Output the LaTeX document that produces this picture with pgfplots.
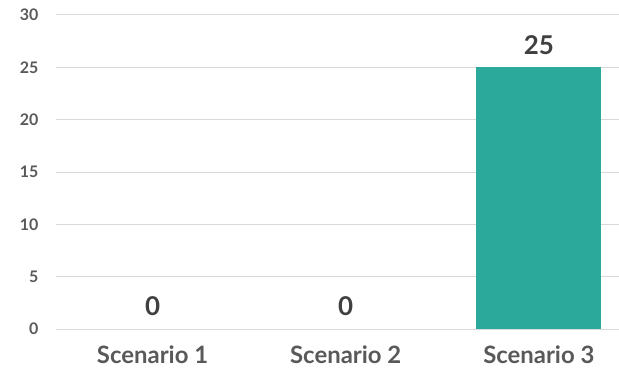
\documentclass[border=0pt]{standalone}
\usepackage{pgfplots}
\pgfplotsset{compat=1.18}
\usepackage{fontspec}
\setmainfont{Lato}[UprightFont=* Bold]
\definecolor{barc}{HTML}{2BAA9C}
\definecolor{tickc}{HTML}{595959}
\definecolor{labc}{HTML}{404040}
\definecolor{gridc}{HTML}{D9D9D9}
\begin{document}
\begin{tikzpicture}[x=1bp,y=1bp]
\path[use as bounding box] (-56bp,-45bp) rectangle (563bp,329bp);
\begin{axis}[
  at={(0,0)}, anchor=south west,
  scale only axis, width=563bp, height=314bp,
  xmin=-0.5, xmax=2.415, ymin=0, ymax=30,
  ytick={0,5,...,30},
  xtick={0,1,2},
  xticklabels={Scenario 1,Scenario 2,Scenario 3},
  axis line style={draw=none},
  major tick length=0pt,
  ymajorgrids, grid style={gridc, line width=1bp},
  /pgf/number format/assume math mode=true,
  yticklabel style={font=\fontsize{16}{18}\selectfont, text=tickc, xshift=-14bp},
  xticklabel style={font=\fontsize{24}{27}\selectfont, text=tickc, yshift=-13bp},
  clip=false,
]
\addplot[ybar, bar width=125bp, fill=barc, draw=none,
  nodes near coords,
  nodes near coords style={font=\fontsize{26}{28}\selectfont, text=labc, anchor=south, yshift=9bp},
] coordinates {(2,25)};
\addplot[draw=none, mark=none,
  nodes near coords,
  nodes near coords style={font=\fontsize{26}{28}\selectfont, text=labc, anchor=south, yshift=10bp},
] coordinates {(0,0) (1,0)};
\end{axis}
\end{tikzpicture}
\end{document}
